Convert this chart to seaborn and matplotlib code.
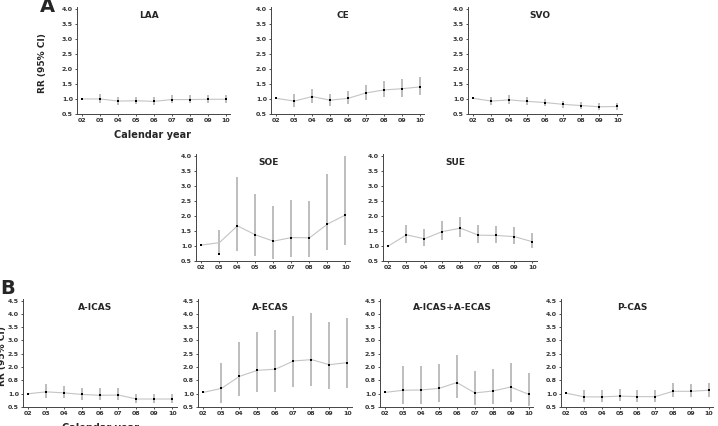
import numpy as np
import pandas as pd
import matplotlib.pyplot as plt
import seaborn as sns

years = ["02", "03", "04", "05", "06", "07", "08", "09", "10"]

# point estimates and 95% CI (02 is the reference year, no CI)
laa = [1.00, 1.00, 0.93, 0.94, 0.92, 0.98, 0.98, 0.99, 0.99]
laa_lo = [np.nan, 0.88, 0.80, 0.82, 0.80, 0.85, 0.85, 0.86, 0.86]
laa_hi = [np.nan, 1.15, 1.06, 1.08, 1.05, 1.13, 1.12, 1.13, 1.13]

ce = [1.02, 0.93, 1.08, 0.96, 1.02, 1.20, 1.30, 1.34, 1.40]
ce_lo = [np.nan, 0.72, 0.85, 0.76, 0.82, 0.95, 1.05, 1.08, 1.12]
ce_hi = [np.nan, 1.15, 1.33, 1.18, 1.26, 1.47, 1.60, 1.65, 1.73]

svo = [1.02, 0.93, 0.97, 0.92, 0.88, 0.82, 0.78, 0.74, 0.75]
svo_lo = [np.nan, 0.80, 0.84, 0.80, 0.76, 0.71, 0.67, 0.64, 0.64]
svo_hi = [np.nan, 1.08, 1.12, 1.06, 1.01, 0.94, 0.90, 0.86, 0.87]

soe = [1.03, 1.11, 1.67, 1.37, 1.16, 1.28, 1.27, 1.73, 2.03]
soe_mark = [1.03, 0.72, 1.67, 1.37, 1.16, 1.28, 1.27, 1.73, 2.03]
soe_lo = [np.nan, 0.75, 0.83, 0.68, 0.57, 0.63, 0.62, 0.88, 1.03]
soe_hi = [np.nan, 1.53, 3.28, 2.72, 2.32, 2.53, 2.48, 3.38, 4.00]

sue = [1.00, 1.37, 1.24, 1.48, 1.59, 1.36, 1.35, 1.31, 1.14]
sue_lo = [np.nan, 1.10, 1.00, 1.20, 1.30, 1.10, 1.10, 1.07, 0.92]
sue_hi = [np.nan, 1.71, 1.57, 1.82, 1.97, 1.69, 1.67, 1.63, 1.42]

aicas = [1.00, 1.07, 1.03, 0.97, 0.94, 0.95, 0.80, 0.80, 0.80]
aicas_lo = [np.nan, 0.85, 0.82, 0.77, 0.75, 0.76, 0.65, 0.64, 0.64]
aicas_hi = [np.nan, 1.35, 1.30, 1.22, 1.20, 1.20, 0.99, 0.99, 1.00]

aecas = [1.05, 1.20, 1.65, 1.88, 1.92, 2.23, 2.28, 2.09, 2.17]
aecas_lo = [np.nan, 0.65, 0.92, 1.05, 1.08, 1.26, 1.30, 1.18, 1.22]
aecas_hi = [np.nan, 2.17, 2.93, 3.32, 3.40, 3.93, 4.02, 3.68, 3.83]

both = [1.05, 1.13, 1.14, 1.20, 1.42, 1.03, 1.10, 1.25, 0.98]
both_lo = [np.nan, 0.60, 0.60, 0.68, 0.82, 0.57, 0.62, 0.70, 0.53]
both_hi = [np.nan, 2.03, 2.03, 2.10, 2.45, 1.85, 1.93, 2.15, 1.76]

pcas = [1.02, 0.88, 0.88, 0.91, 0.89, 0.89, 1.09, 1.09, 1.13]
pcas_lo = [np.nan, 0.68, 0.68, 0.72, 0.70, 0.70, 0.86, 0.86, 0.88]
pcas_hi = [np.nan, 1.15, 1.13, 1.17, 1.14, 1.14, 1.39, 1.37, 1.42]

yticks_a = [0.5, 1.0, 1.5, 2.0, 2.5, 3.0, 3.5, 4.0]
ylabels_a = ["0.5", "1.0", "1.5", "2.0", "2.5", "3.0", "3.5", "4.0"]
yticks_b = [0.5, 1.0, 1.5, 2.0, 2.5, 3.0, 3.5, 4.0, 4.5]
ylabels_b = ["0.5", "1.0", "0.8", "2.0", "2.5", "3.0", "3.5", "4.0", "4.5"]

sns.set_style("ticks")
plt.rcParams["font.family"] = ["DejaVu Sans"]

W, H = 718, 426
fig = plt.figure(figsize=(W / 100, H / 100), dpi=100)
pos = np.arange(len(years))


def add_panel(left, right, top, bottom, title, vals, lo, hi, row, marks=None):
    ax = fig.add_axes([left / W, 1 - bottom / H, (right - left) / W, (bottom - top) / H])
    ax.vlines(pos, lo, hi, color="#b8b8b8", lw=1.3, zorder=1)
    df = pd.DataFrame({"pos": pos, "rr": vals})
    sns.lineplot(data=df, x="pos", y="rr", ax=ax, color="#c4c4c4", lw=0.8, zorder=2)
    mk = pd.DataFrame({"pos": pos, "rr": marks if marks is not None else vals})
    sns.scatterplot(data=mk, x="pos", y="rr", ax=ax, color="black", marker="s",
                    s=4.5, linewidth=0, zorder=3)
    if row == "A":
        ax.set_ylim(0.5, 4.06)
        ax.set_yticks(yticks_a)
        ax.set_yticklabels(ylabels_a)
    else:
        ax.set_ylim(0.5, 4.56)
        ax.set_yticks(yticks_b)
        ax.set_yticklabels(ylabels_b)
    ax.set_xlim(-0.3, 8.25)
    ax.set_xticks(pos)
    ax.set_xticklabels(years)
    ax.set_xlabel("")
    ax.set_ylabel("")
    ax.tick_params(labelsize=4.5, length=1.5, width=0.6, pad=1.5, colors="#333333")
    for lab in ax.get_xticklabels() + ax.get_yticklabels():
        lab.set_fontweight("bold")
    for s in ["left", "bottom"]:
        ax.spines[s].set_linewidth(0.7)
        ax.spines[s].set_color("#444444")
    sns.despine(ax=ax)
    ax.text(0.47, 0.92, title, transform=ax.transAxes, ha="center", va="center",
            fontsize=6.5, fontweight="bold")
    return ax


# row A, top
add_panel(77, 230, 7, 114, "LAA", laa, laa_lo, laa_hi, "A")
add_panel(271, 424, 7, 114, "CE", ce, ce_lo, ce_hi, "A")
add_panel(468, 622, 7, 114, "SVO", svo, svo_lo, svo_hi, "A")
# row A, second line
add_panel(196, 350, 154, 261, "SOE", soe, soe_lo, soe_hi, "A", marks=soe_mark)
add_panel(383, 537, 154, 261, "SUE", sue, sue_lo, sue_hi, "A")
# row B
add_panel(23, 177, 299, 407, "A-ICAS", aicas, aicas_lo, aicas_hi, "B")
add_panel(198, 352, 299, 407, "A-ECAS", aecas, aecas_lo, aecas_hi, "B")
add_panel(380, 533, 299, 407, "A-ICAS+A-ECAS", both, both_lo, both_hi, "B")
add_panel(561, 713, 299, 407, "P-CAS", pcas, pcas_lo, pcas_hi, "B")

# panel letters and shared labels
fig.text(40 / W, 1 - 7 / H, "A", fontsize=14, fontweight="bold", ha="left", va="center")
fig.text(0 / W, 1 - 289 / H, "B", fontsize=14, fontweight="bold", ha="left", va="center")
fig.text(42 / W, 1 - 63 / H, "RR (95% CI)", rotation=90, fontsize=6.5,
         fontweight="bold", ha="center", va="center")
fig.text(152 / W, 1 - 135 / H, "Calendar year", fontsize=7, fontweight="bold",
         ha="center", va="center")
fig.text(3 / W, 1 - 356 / H, "RR (95% CI)", rotation=90, fontsize=6.5,
         fontweight="bold", ha="center", va="center")
fig.text(100 / W, 1 - 428 / H, "Calendar year", fontsize=7, fontweight="bold",
         ha="center", va="center")

fig.savefig("out.png", dpi=100)
